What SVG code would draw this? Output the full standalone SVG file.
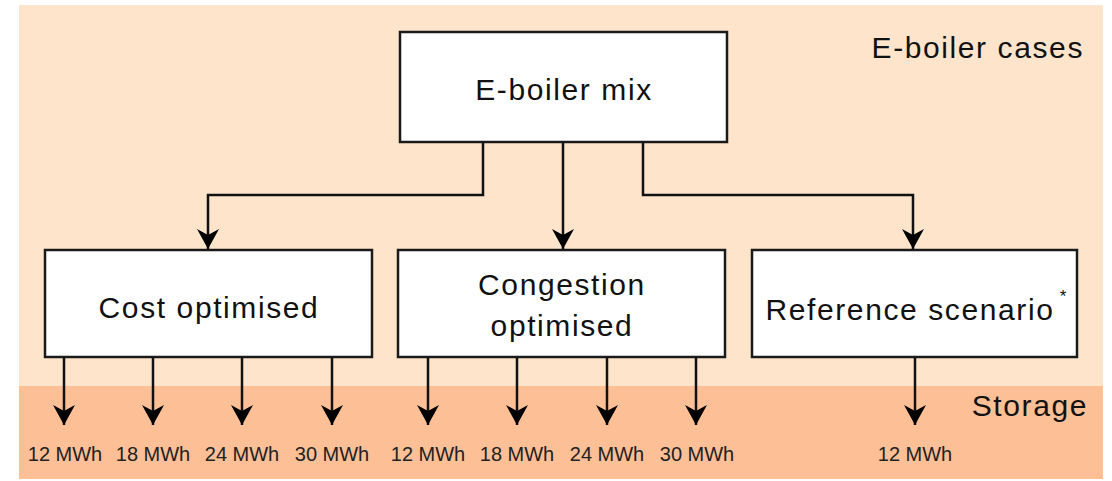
<svg xmlns="http://www.w3.org/2000/svg" width="1112" height="481" viewBox="0 0 1112 481">
<style>
.box{fill:#fff;stroke:#1a1a1a;stroke-width:2.5}
.ln{fill:none;stroke:#111;stroke-width:2.5}
.t{font-family:"Liberation Sans",Arial,sans-serif;fill:#111}
.big{font-size:30px;letter-spacing:1.6px}
.lab{font-size:20px;text-anchor:middle;fill:#222}
</style>
<defs>
<marker id="ah" viewBox="0 0 20 22" refX="20" refY="11" markerWidth="20" markerHeight="22" orient="auto" markerUnits="userSpaceOnUse">
<path d="M0,0 L20,11 L0,22 L6,11 Z" fill="#000"/>
</marker>
</defs>
<rect x="0" y="0" width="1112" height="481" fill="#fff"/>
<rect x="19" y="5" width="1084" height="474" fill="#FEE4CB"/>
<rect x="19" y="386" width="1084" height="93" fill="#FDBF95"/>
<text class="t big" x="1084" y="58" text-anchor="end">E-boiler cases</text>
<text class="t big" x="1088" y="416" text-anchor="end">Storage</text>
<g id="connectors">
<path class="ln" d="M483,142 V195 H208 V249" marker-end="url(#ah)"/>
<path class="ln" d="M563,142 V249" marker-end="url(#ah)"/>
<path class="ln" d="M643,142 V195 H913 V249" marker-end="url(#ah)"/>
<path class="ln" d="M64,358 V425" marker-end="url(#ah)"/>
<path class="ln" d="M153,358 V425" marker-end="url(#ah)"/>
<path class="ln" d="M242,358 V425" marker-end="url(#ah)"/>
<path class="ln" d="M332,358 V425" marker-end="url(#ah)"/>
<path class="ln" d="M428,358 V425" marker-end="url(#ah)"/>
<path class="ln" d="M517,358 V425" marker-end="url(#ah)"/>
<path class="ln" d="M607,358 V425" marker-end="url(#ah)"/>
<path class="ln" d="M696,358 V425" marker-end="url(#ah)"/>
<path class="ln" d="M915,358 V425" marker-end="url(#ah)"/>
</g>
<g id="mix">
<rect class="box" x="400" y="32" width="327" height="110"/>
<text class="t big" x="564" y="100" text-anchor="middle">E-boiler mix</text>
</g>
<g id="cost">
<rect class="box" x="45" y="250" width="327" height="107"/>
<text class="t big" x="209" y="318" text-anchor="middle">Cost optimised</text>
</g>
<g id="congestion">
<rect class="box" x="398" y="250" width="327" height="107"/>
<text class="t big" x="562" y="295" text-anchor="middle">Congestion</text>
<text class="t big" x="562" y="336" text-anchor="middle">optimised</text>
</g>
<g id="reference">
<rect class="box" x="752" y="250" width="325" height="107"/>
<text class="t big" x="910" y="320" text-anchor="middle">Reference scenario</text>
<text class="t" x="1063" y="302" font-size="17" text-anchor="middle">*</text>
</g>
<g id="storage-labels">
<text class="t lab" x="65" y="461">12 MWh</text>
<text class="t lab" x="153" y="461">18 MWh</text>
<text class="t lab" x="242" y="461">24 MWh</text>
<text class="t lab" x="332" y="461">30 MWh</text>
<text class="t lab" x="428" y="461">12 MWh</text>
<text class="t lab" x="517" y="461">18 MWh</text>
<text class="t lab" x="607" y="461">24 MWh</text>
<text class="t lab" x="697" y="461">30 MWh</text>
<text class="t lab" x="915" y="461">12 MWh</text>
</g>
</svg>
